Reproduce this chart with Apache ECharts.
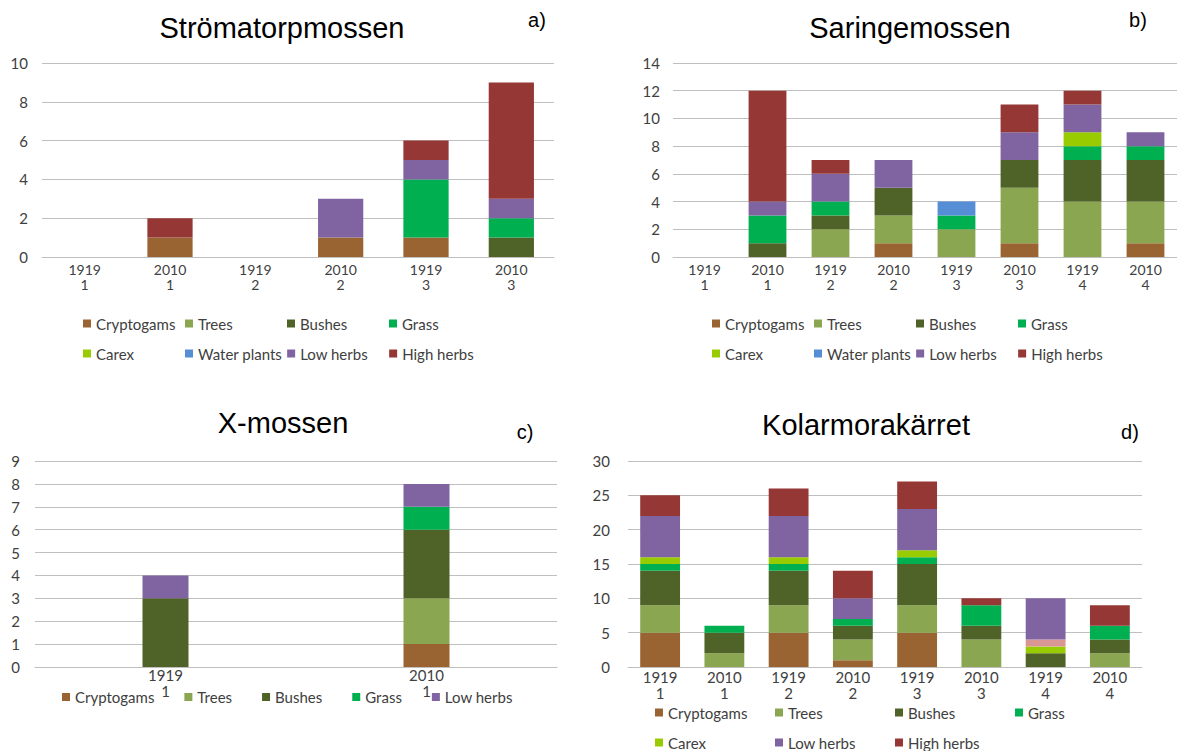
<!DOCTYPE html>
<html>
<head>
<meta charset="utf-8">
<script src="https://cdn.jsdelivr.net/npm/echarts@6/dist/echarts.min.js"></script>
<style>
  html, body { margin: 0; padding: 0; background: #fff; }
  #chart { width: 1177px; height: 751px; }
</style>
</head>
<body>
<div id="chart"></div>
<script>
// Vegetation groups and their colours
const groupNames = ['Cryptogams', 'Trees', 'Bushes', 'Grass', 'Carex', 'Water plants', 'Low herbs', 'High herbs'];
const groupColors = ['#9a6432', '#8aa650', '#4f6228', '#00b050', '#99cc00', '#558ed5', '#8064a2', '#953735'];
const waterPlantsColorD = '#d99694';

// a) Strömatorpmossen
const catsA = ['1919\n1', '2010\n1', '1919\n2', '2010\n2', '1919\n3', '2010\n3'];
const aCryptogams = [0, 1, 0, 1, 1, 0];
const aTrees      = [0, 0, 0, 0, 0, 0];
const aBushes     = [0, 0, 0, 0, 0, 1];
const aGrass      = [0, 0, 0, 0, 3, 1];
const aCarex      = [0, 0, 0, 0, 0, 0];
const aWater      = [0, 0, 0, 0, 0, 0];
const aLowHerbs   = [0, 0, 0, 2, 1, 1];
const aHighHerbs  = [0, 1, 0, 0, 1, 6];

// b) Saringemossen
const catsB = ['1919\n1', '2010\n1', '1919\n2', '2010\n2', '1919\n3', '2010\n3', '1919\n4', '2010\n4'];
const bCryptogams = [0, 0, 0, 1, 0, 1, 0, 1];
const bTrees      = [0, 0, 2, 2, 2, 4, 4, 3];
const bBushes     = [0, 1, 1, 2, 0, 2, 3, 3];
const bGrass      = [0, 2, 1, 0, 1, 0, 1, 1];
const bCarex      = [0, 0, 0, 0, 0, 0, 1, 0];
const bWater      = [0, 0, 0, 0, 1, 0, 0, 0];
const bLowHerbs   = [0, 1, 2, 2, 0, 2, 2, 1];
const bHighHerbs  = [0, 8, 1, 0, 0, 2, 1, 0];

// c) X-mossen
const catsC = ['1919\n1', '2010\n1'];
const cCryptogams = [0, 1];
const cTrees      = [0, 2];
const cBushes     = [3, 3];
const cGrass      = [0, 1];
const cLowHerbs   = [1, 1];

// d) Kolarmorakärret
const catsD = ['1919\n1', '2010\n1', '1919\n2', '2010\n2', '1919\n3', '2010\n3', '1919\n4', '2010\n4'];
const dCryptogams = [5, 0, 5, 1, 5, 0, 0, 0];
const dTrees      = [4, 2, 4, 3, 4, 4, 0, 2];
const dBushes     = [5, 3, 5, 2, 6, 2, 2, 2];
const dGrass      = [1, 1, 1, 1, 1, 3, 0, 2];
const dCarex      = [1, 0, 1, 0, 1, 0, 1, 0];
const dWater      = [0, 0, 0, 0, 0, 0, 1, 0];
const dLowHerbs   = [6, 0, 6, 3, 6, 0, 6, 0];
const dHighHerbs  = [3, 0, 4, 4, 4, 1, 0, 3];

// y-axis scales per panel
const yMax = [10, 14, 9, 30];
const yStep = [2, 2, 1, 5];

const panels = [
  { cats: catsA, stack: 'a', barWidth: '53%',
    values: [aCryptogams, aTrees, aBushes, aGrass, aCarex, aWater, aLowHerbs, aHighHerbs],
    names: groupNames },
  { cats: catsB, stack: 'b', barWidth: '60%',
    values: [bCryptogams, bTrees, bBushes, bGrass, bCarex, bWater, bLowHerbs, bHighHerbs],
    names: groupNames },
  { cats: catsC, stack: 'c', barWidth: 46,
    values: [cCryptogams, cTrees, cBushes, cGrass, cLowHerbs],
    names: ['Cryptogams', 'Trees', 'Bushes', 'Grass', 'Low herbs'] },
  { cats: catsD, stack: 'd', barWidth: '62%',
    values: [dCryptogams, dTrees, dBushes, dGrass, dCarex, dWater, dLowHerbs, dHighHerbs],
    names: groupNames }
];

const gridBoxes = [
  { left: 42, top: 63, width: 512, height: 194 },
  { left: 673, top: 63, width: 507, height: 194 },
  { left: 35, top: 461, width: 522, height: 206 },
  { left: 628, top: 461, width: 514, height: 206 }
];
const labelLayout = [
  { margin: 5, lineHeight: 15, fontSize: 14, yMargin: 14 },
  { margin: 5, lineHeight: 15, fontSize: 14, yMargin: 13 },
  { margin: 0, lineHeight: 16, fontSize: 15, yMargin: 15 },
  { margin: 2, lineHeight: 16, fontSize: 15, yMargin: 18 }
];

const labelFont = 'Lato, "Open Sans", sans-serif';
const gridColor = '#bfbfbf';

const grid = gridBoxes.map(b => Object.assign({ containLabel: false }, b));
const xAxis = panels.map((p, i) => ({
  type: 'category', gridIndex: i, data: p.cats,
  axisTick: { show: false },
  axisLine: { lineStyle: { color: gridColor, width: 1 } },
  axisLabel: { interval: 0, color: '#404040', fontFamily: labelFont, fontSize: labelLayout[i].fontSize,
               margin: labelLayout[i].margin, lineHeight: labelLayout[i].lineHeight }
}));
const yAxis = panels.map((p, i) => ({
  type: 'value', gridIndex: i, min: 0, max: yMax[i], interval: yStep[i],
  axisLine: { show: false }, axisTick: { show: false },
  splitLine: { lineStyle: { color: gridColor, width: 1 } },
  axisLabel: { color: '#404040', fontFamily: labelFont, fontSize: 15, margin: labelLayout[i].yMargin }
}));

const series = [];
panels.forEach((p, i) => {
  p.names.forEach((name, k) => {
    let color = groupColors[groupNames.indexOf(name)];
    if (i === 3 && name === 'Water plants') color = waterPlantsColorD;
    series.push({
      type: 'bar', name: name, stack: p.stack,
      xAxisIndex: i, yAxisIndex: i,
      barWidth: p.barWidth,
      itemStyle: { color: color },
      data: p.values[k]
    });
  });
});

const legendText = { color: '#404040', fontFamily: labelFont, fontSize: 15 };
const legend = [
  { left: 83, top: 311, width: 410, padding: 0, itemGap: 5, itemWidth: 8, itemHeight: 8,
    icon: 'rect', data: groupNames,
    textStyle: Object.assign({ width: 84, lineHeight: 25 }, legendText) },
  { left: 712, top: 311, width: 410, padding: 0, itemGap: 5, itemWidth: 8, itemHeight: 8,
    icon: 'rect', data: groupNames,
    textStyle: Object.assign({ width: 84, lineHeight: 25 }, legendText) },
  { left: 62, top: 686, padding: 0, itemGap: 30, itemWidth: 8, itemHeight: 8,
    icon: 'rect', data: ['Cryptogams', 'Trees', 'Bushes', 'Grass', 'Low herbs'],
    textStyle: Object.assign({ lineHeight: 22 }, legendText) },
  { left: 655, top: 700, width: 480, padding: 0, itemGap: 5, itemWidth: 8, itemHeight: 8,
    icon: 'rect', data: ['Cryptogams', 'Trees', 'Bushes', 'Grass', 'Carex', 'Low herbs', 'High herbs'],
    textStyle: Object.assign({ width: 102, lineHeight: 25 }, legendText) }
];

const titleFont = '29px "Liberation Sans", Arial, sans-serif';
const tagFont = '20px "Liberation Sans", Arial, sans-serif';
function label(text, x, y, font) {
  return { type: 'text', x: x, y: y, silent: true,
           style: { text: text, font: font, fill: '#000', align: 'center', verticalAlign: 'middle' } };
}
const graphic = [
  label('Strömatorpmossen', 282, 28, titleFont),
  label('a)', 537, 20, tagFont),
  label('Saringemossen', 910, 28, titleFont),
  label('b)', 1138, 20, tagFont),
  label('X-mossen', 283, 423, titleFont),
  label('c)', 525, 432, tagFont),
  label('Kolarmorakärret', 866, 425, titleFont),
  label('d)', 1130, 432, tagFont)
];

const chart = echarts.init(document.getElementById('chart'), null, { renderer: 'svg' });
chart.setOption({
  animation: false,
  backgroundColor: '#ffffff',
  grid: grid,
  xAxis: xAxis,
  yAxis: yAxis,
  legend: legend,
  graphic: graphic,
  series: series
});
</script>
</body>
</html>
